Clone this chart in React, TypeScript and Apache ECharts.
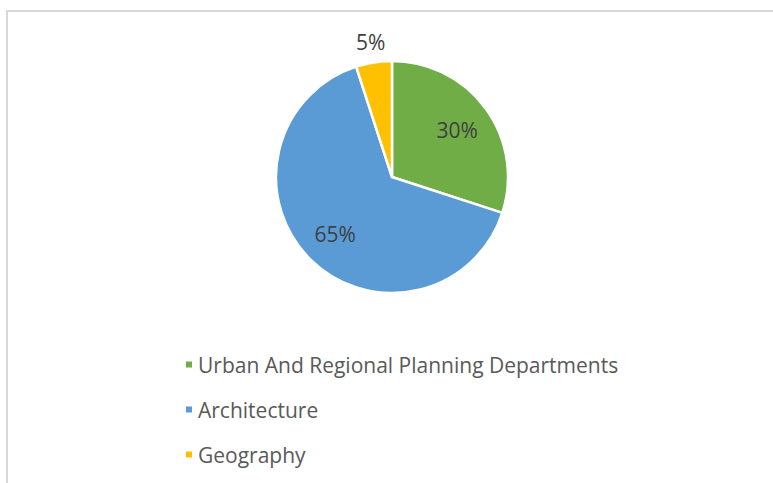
import React, { useEffect, useRef } from "react";
import * as echarts from "echarts";

const categories = ["Urban And Regional Planning Departments", "Architecture", "Geography"];
const values = [30, 65, 5];
const colors = ["#70AD47", "#5B9BD5", "#FFC000"];
const FONT = "Open Sans";

export default function App() {
  const ref = useRef<HTMLDivElement>(null);
  useEffect(() => {
    if (!ref.current) return;
    const chart = echarts.init(ref.current, null, { renderer: "svg" });
    const data = categories.map((name, i) => ({ name, value: values[i], itemStyle: { color: colors[i] } }));
    const labelBase = {
      fontFamily: FONT,
      fontSize: 21,
      color: "#404040",
      formatter: (p: any) => `${p.value}%`,
    };
    const overlay = (radius: number, show: boolean[], id: string) => ({
      type: "pie",
      id,
      center: [392, 177],
      radius: [0, radius],
      startAngle: 90,
      clockwise: true,
      silent: true,
      legendHoverLink: false,
      itemStyle: { color: "transparent", borderWidth: 0 },
      emphasis: { disabled: true },
      labelLine: { show: false },
      data: categories.map((name, i) => ({
        name: name + " ",
        value: values[i],
        label: { show: show[i], position: "inside", ...labelBase },
      })),
    });
    chart.setOption({
      animation: false,
      backgroundColor: "#ffffff",
      graphic: [
        {
          type: "rect",
          shape: { x: 7, y: 11, width: 900, height: 600 },
          style: { fill: "none", stroke: "#d9d9d9", lineWidth: 2 },
          silent: true,
        },
      ],
      legend: {
        orient: "vertical",
        left: 179,
        top: 349,
        data: categories,
        icon: "rect",
        itemWidth: 8,
        itemHeight: 8,
        itemGap: 24,
        textStyle: { fontFamily: FONT, fontSize: 21, color: "#595959", lineHeight: 21 },
        selectedMode: false,
      },
      series: [
        {
          type: "pie",
          id: "main",
          center: [392, 177],
          radius: [0, 116],
          startAngle: 90,
          clockwise: true,
          itemStyle: { borderColor: "#ffffff", borderWidth: 2.5 },
          label: { show: false },
          labelLine: { show: false },
          emphasis: { disabled: true },
          data,
        },
        overlay(155, [true, true, false], "ovA"),
        overlay(268, [false, false, true], "ovB"),
      ],
    });
    return () => chart.dispose();
  }, []);
  return <div ref={ref} style={{ position: "fixed", left: 0, top: 0, width: 773, height: 483 }} />;
}
